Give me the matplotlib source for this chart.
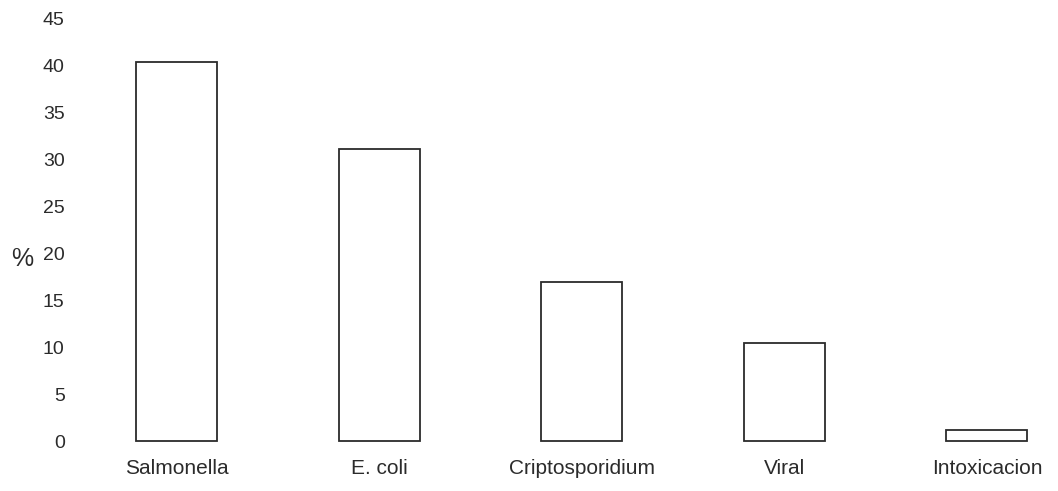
import matplotlib
matplotlib.use("Agg")
import matplotlib.pyplot as plt
import numpy as np

# values (%)
categories = ["Salmonella", "E. coli", "Criptosporidium", "Viral", "Intoxicacion"]
percent = [40.4, 31.1, 16.9, 10.5, 1.2]
yticks = [0, 5, 10, 15, 20, 25, 30, 35, 40, 45]

plt.rcParams['font.family'] = ['Liberation Sans', 'DejaVu Sans']

fig = plt.figure(figsize=(10.58, 4.91), dpi=100)
# axes placed in pixel terms to follow the scan
ax = fig.add_axes([80 / 1058, 36 / 491, 960 / 1058, 445 / 491])

x = np.arange(len(categories))
ax.bar(x, percent, width=0.4, facecolor="white", edgecolor="#2b2b2b", linewidth=1.3)

ax.set_xlim(-0.479, 4.262)
ax.set_ylim(-1.49, 45.95)
ax.set_yticks(yticks)
ax.set_yticklabels([str(v) for v in yticks], fontsize=14, color="#2b2b2b")
ax.set_xticks(x)
ax.set_xticklabels(categories, fontsize=15, color="#2b2b2b")
ax.tick_params(axis="y", length=0, pad=11)
ax.tick_params(axis="x", length=0, pad=3)
for s in ax.spines.values():
    s.set_visible(False)

fig.text(22 / 1058, 1 - 259 / 491, "%", fontsize=18, color="#2b2b2b",
         ha="center", va="center")

fig.savefig("out.png", dpi=100, facecolor="white")
